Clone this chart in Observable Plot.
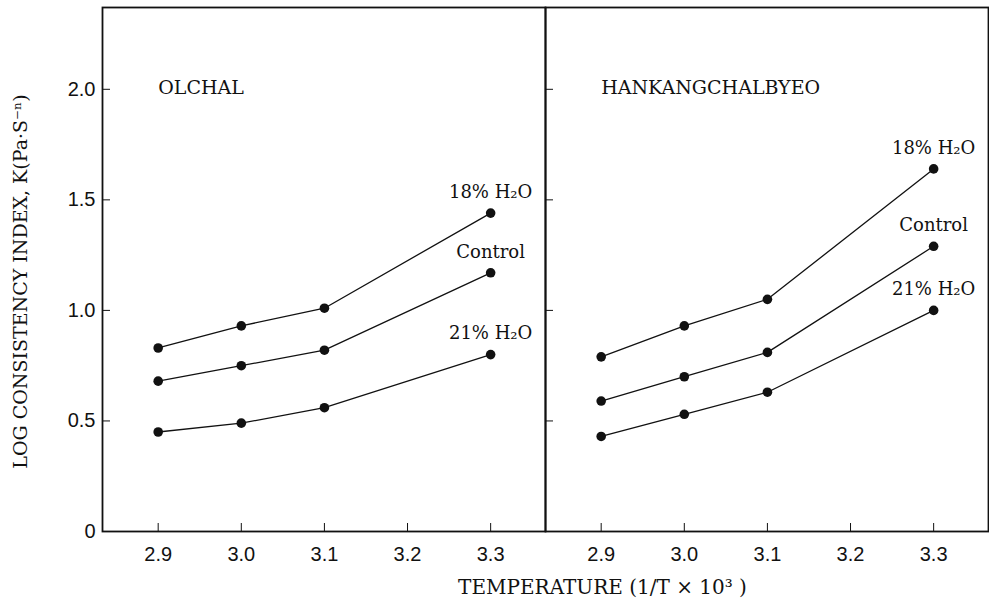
<!DOCTYPE html>
<html>
<head>
<meta charset="utf-8">
<script src="https://cdn.jsdelivr.net/npm/d3@7"></script>
<script src="https://cdn.jsdelivr.net/npm/@observablehq/plot@0.6"></script>
<style>
  body { margin: 0; background: #fff; }
</style>
</head>
<body>
<div id="chart"></div>
<script>
// ---- data ----
const panels = ["OLCHAL", "HANKANGCHALBYEO"];
const seriesNames = ["18% H₂O", "Control", "21% H₂O"];
const temps = [2.9, 3.0, 3.1, 3.3];

const olchal18 = [0.83, 0.93, 1.01, 1.44];
const olchalControl = [0.68, 0.75, 0.82, 1.17];
const olchal21 = [0.45, 0.49, 0.56, 0.80];

const hank18 = [0.79, 0.93, 1.05, 1.64];
const hankControl = [0.59, 0.70, 0.81, 1.29];
const hank21 = [0.43, 0.53, 0.63, 1.00];

const xTicks = [2.9, 3.0, 3.1, 3.2, 3.3];
const xTickLabels = ["2.9", "3.0", "3.1", "3.2", "3.3"];
const yTicks = [0, 0.5, 1.0, 1.5, 2.0];
const yTickLabels = ["0", "0.5", "1.0", "1.5", "2.0"];

const xTitle = "TEMPERATURE (1/T × 10³ )";
const yTitle = "LOG CONSISTENCY INDEX, K(Pa·S⁻ⁿ)";

// ---- table ----
const values = [
  [olchal18, olchalControl, olchal21],
  [hank18, hankControl, hank21]
];
const rows = [];
panels.forEach((p, pi) =>
  seriesNames.forEach((s, si) =>
    temps.forEach((t, ti) =>
      rows.push({panel: p, series: s, temp: t, k: values[pi][si][ti]}))));
const endRows = rows.filter(d => d.temp === temps[temps.length - 1]);

const serif = "'DejaVu Serif', 'Liberation Serif', serif";
const ink = "#111";

const chart = Plot.plot({
  width: 989,
  height: 607,
  marginLeft: 102,
  marginRight: 1,
  marginTop: 7,
  marginBottom: 76,
  style: {
    fontFamily: "'Liberation Sans', Arial, sans-serif",
    fontSize: "20px",
    color: ink,
    background: "#fff"
  },
  fx: {domain: panels, padding: 0, axis: null, label: null},
  x: {domain: [2.833, 3.366], label: null},
  y: {domain: [0, 2.37], label: null},
  marks: [
    Plot.frame({stroke: ink, strokeWidth: 1.8}),
    Plot.axisX({
      ticks: xTicks, tickSize: -8, tickPadding: 23,
      tickFormat: d => xTickLabels[xTicks.indexOf(d)], label: null
    }),
    Plot.axisY({
      ticks: yTicks, tickSize: -8, fill: "none", facetAnchor: null, label: null
    }),
    Plot.axisY({
      ticks: yTicks, tickSize: 0, tickPadding: 7,
      tickFormat: d => yTickLabels[yTicks.indexOf(d)], label: null
    }),
    Plot.line(rows, {
      fx: "panel", x: "temp", y: "k", z: "series",
      stroke: ink, strokeWidth: 1.3
    }),
    Plot.dot(rows, {fx: "panel", x: "temp", y: "k", r: 4.8, fill: ink}),
    Plot.text(endRows, {
      fx: "panel", x: "temp", y: "k", text: "series",
      dy: -21, fontFamily: serif, fontSize: 18, fill: ink
    }),
    Plot.text(panels, {
      fx: d => d, x: () => temps[0], text: d => d,
      frameAnchor: "top", dy: 73, textAnchor: "start",
      fontFamily: serif, fontSize: 19, fill: ink
    }),
    Plot.text([yTitle], {
      fx: [panels[0]], text: d => d, frameAnchor: "left",
      textAnchor: "middle", rotate: -90, dx: -82, dy: 12,
      fontFamily: serif, fontSize: 19, fill: ink
    }),
    Plot.text([xTitle], {
      fx: [panels[1]], text: d => d, frameAnchor: "bottom-left",
      dx: 57, dy: 62, textAnchor: "middle",
      fontFamily: serif, fontSize: 20, fill: ink
    })
  ]
});

document.getElementById("chart").appendChild(chart);
</script>
</body>
</html>
